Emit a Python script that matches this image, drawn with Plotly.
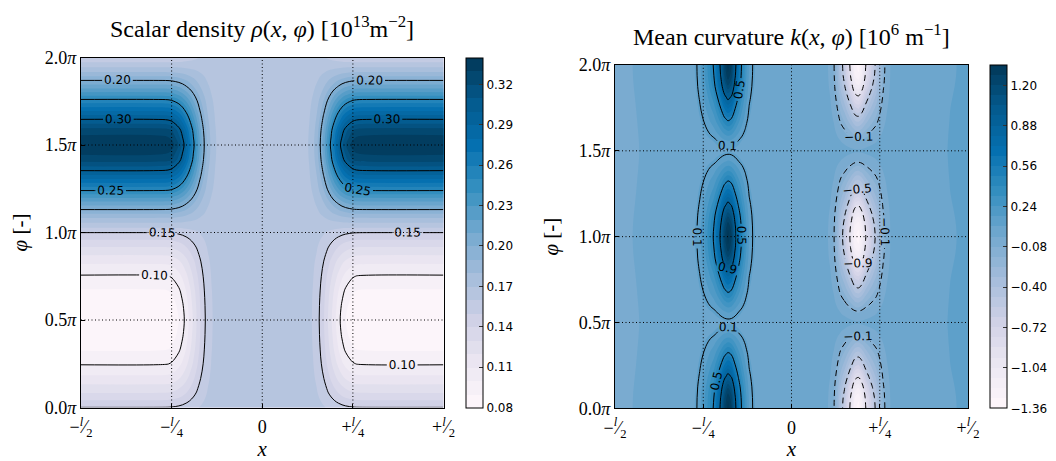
import plotly.graph_objects as go

# ---------------- data: scalar density rho(x, phi) ----------------
# x in units of l, phi in units of pi
rho_x = [-0.50, -0.30, -0.26, -0.25, -0.24, -0.23, -0.22, -0.21, -0.20, -0.19,
         -0.18, -0.17, -0.16, -0.15, -0.14, -0.13, -0.12, -0.11, -0.10, 0.00,
         0.10, 0.11, 0.12, 0.13, 0.14, 0.15, 0.16, 0.17, 0.18, 0.19,
         0.20, 0.21, 0.22, 0.23, 0.24, 0.25, 0.26, 0.30, 0.50]
# weight of the edge profile across x (1 = edge value, 0 = central plateau)
rho_w = [1.00, 1.00, 0.99, 0.97, 0.93, 0.88, 0.81, 0.72, 0.62, 0.51,
         0.40, 0.29, 0.20, 0.12, 0.07, 0.035, 0.015, 0.005, 0.0, 0.0,
         0.0, 0.005, 0.015, 0.035, 0.07, 0.12, 0.20, 0.29, 0.40, 0.51,
         0.62, 0.72, 0.81, 0.88, 0.93, 0.97, 0.99, 1.00, 1.00]
rho_phi = [0.0, 0.0833, 0.1667, 0.25, 0.3333, 0.4167, 0.5, 0.5833, 0.6667, 0.75,
           0.8333, 0.9167, 1.0, 1.0833, 1.1667, 1.25, 1.3333, 1.4167, 1.5, 1.5833,
           1.6667, 1.75, 1.8333, 1.9167, 2.0]
rho_edge = [0.1502, 0.130, 0.113, 0.099, 0.089, 0.083, 0.080, 0.083, 0.089, 0.099,
            0.112, 0.130, 0.1502, 0.180, 0.215, 0.255, 0.292, 0.325, 0.340, 0.325,
            0.292, 0.255, 0.215, 0.180, 0.1502]
rho_center = 0.165
rho_ticks = [0.08, 0.11, 0.14, 0.17, 0.20, 0.23, 0.26, 0.29, 0.32]

# ---------------- data: mean curvature k(x, phi) ----------------
k_x = [-0.50, -0.475, -0.45, -0.425, -0.40, -0.35, -0.30, -0.28, -0.27, -0.26,
       -0.25, -0.24, -0.23, -0.22, -0.21, -0.20, -0.19, -0.18, -0.17, -0.16,
       -0.15, -0.14, -0.13, -0.12, -0.11, -0.10, -0.08, -0.04, 0.00, 0.04,
       0.08, 0.10, 0.11, 0.12, 0.13, 0.14, 0.15, 0.16, 0.17, 0.18,
       0.19, 0.20, 0.21, 0.22, 0.23, 0.24, 0.25, 0.26, 0.27, 0.28,
       0.30, 0.35, 0.40, 0.425, 0.45, 0.475, 0.50]
# lobe amplitude across x (value at phi = 0, pi, 2pi)
k_amp = [0.01, 0.01, 0.01, 0.01, 0.01, 0.01, 0.01, 0.025, 0.05, 0.10,
         0.17, 0.26, 0.37, 0.48, 0.68, 0.92, 1.20, 1.36, 1.25, 0.93,
         0.65, 0.42, 0.24, 0.11, 0.06, 0.03, 0.01, 0.0, 0.0, 0.0,
         -0.01, -0.03, -0.06, -0.13, -0.28, -0.47, -0.62, -0.82, -1.05, -1.30,
         -1.36, -1.20, -0.95, -0.78, -0.63, -0.50, -0.33, -0.18, -0.09, -0.04,
         -0.01, -0.01, -0.01, -0.01, -0.01, -0.01, -0.01]
# small background level across x
k_bg = [-0.04, -0.035, -0.01, 0.003, 0.03, 0.04, 0.04, 0.04, 0.04, 0.04,
        0.04, 0.04, 0.04, 0.04, 0.04, 0.04, 0.04, 0.04, 0.04, 0.04,
        0.04, 0.04, 0.04, 0.04, 0.04, 0.04, 0.04, 0.04, 0.04, 0.04,
        0.04, 0.04, 0.04, 0.04, 0.04, 0.04, 0.04, 0.04, 0.04, 0.04,
        0.04, 0.04, 0.04, 0.04, 0.04, 0.04, 0.04, 0.04, 0.04, 0.04,
        0.04, 0.04, 0.05, 0.07, 0.085, 0.092, 0.095]
k_phi = [0.0, 0.0625, 0.125, 0.1875, 0.25, 0.3125, 0.375, 0.4375, 0.5, 0.5625,
         0.625, 0.6875, 0.75, 0.8125, 0.875, 0.9375, 1.0, 1.0625, 1.125, 1.1875,
         1.25, 1.3125, 1.375, 1.4375, 1.5, 1.5625, 1.625, 1.6875, 1.75, 1.8125,
         1.875, 1.9375, 2.0]
# lobe shape along phi
k_shape = [1.0, 0.955, 0.84, 0.67, 0.51, 0.365, 0.225, 0.095, 0.02, 0.095,
           0.225, 0.365, 0.51, 0.67, 0.84, 0.955, 1.0, 0.955, 0.84, 0.67,
           0.51, 0.365, 0.225, 0.095, 0.02, 0.095, 0.225, 0.365, 0.51, 0.67,
           0.84, 0.955, 1.0]
k_ticks = [-1.36, -1.04, -0.72, -0.40, -0.08, 0.24, 0.56, 0.88, 1.20]

x_ticks = [-0.5, -0.25, 0.0, 0.25, 0.5]
x_ticktext = ["−<sup><i>l</i></sup>⁄<sub>2</sub>", "−<sup><i>l</i></sup>⁄<sub>4</sub>", "0",
              "+<sup><i>l</i></sup>⁄<sub>4</sub>", "+<sup><i>l</i></sup>⁄<sub>2</sub>"]
y_ticks = [0.0, 0.5, 1.0, 1.5, 2.0]
y_ticktext = ["0.0<i>π</i>", "0.5<i>π</i>", "1.0<i>π</i>", "1.5<i>π</i>", "2.0<i>π</i>"]

# ---------------- tables ----------------
rho_z = [[rho_center + (e - rho_center) * w for w in rho_w] for e in rho_edge]
k_z = [[a * s + b for a, b in zip(k_amp, k_bg)] for s in k_shape]

# the page body has an 8px margin; the figure is placed at (8, 8) in the window
OFF = 8
W, H = 1048, 453
SERIF = "Liberation Serif"
SANS = "DejaVu Sans"

# pixel boxes in window coordinates
L = dict(x0=81, x1=443.5, y0=57.5, y1=407.5)
R = dict(x0=615, x1=968, y0=65, y1=408.3)

def px(X):
    return (X - OFF) / W

def py(Y):
    return 1 - (Y - OFF) / H

def xd(b):
    return [px(b["x0"]), px(b["x1"])]

def yd(b):
    return [py(b["y1"]), py(b["y0"])]

fig = go.Figure()

def cbar(xpx, box, ticks, fmt):
    return dict(
        x=px(xpx), xanchor="left", y=py(box["y1"]), yanchor="bottom",
        len=(box["y1"] - box["y0"]) / H, lenmode="fraction",
        thickness=17, thicknessmode="pixels", xpad=0, ypad=0,
        outlinecolor="black", outlinewidth=1,
        tickvals=ticks, ticktext=[fmt.format(t).replace("-", "−") for t in ticks],
        ticks="inside", ticklen=4, tickcolor="#333",
        tickfont=dict(family=SANS, size=12, color="black"),
    )

LBL = dict(family=SANS, size=12, color="black")

# density fill
fig.add_trace(go.Contour(
    x=rho_x, y=rho_phi, z=rho_z, xaxis="x", yaxis="y",
    colorscale="PuBu", zmin=0.08, zmax=0.34, autocontour=False,
    contours=dict(start=0.08, end=0.34, size=0.01, coloring="fill", showlines=False),
    line=dict(width=0, smoothing=1.0),
    colorbar=cbar(466, L, rho_ticks, "{:.2f}"), hoverinfo="skip",
))
# density lines
fig.add_trace(go.Contour(
    x=rho_x, y=rho_phi, z=rho_z, xaxis="x", yaxis="y",
    autocontour=False, showscale=False,
    contours=dict(start=0.10, end=0.30, size=0.05, coloring="none",
                  showlabels=True, labelformat=".2f", labelfont=LBL),
    line=dict(color="black", width=1, smoothing=1.0), hoverinfo="skip",
))
# curvature fill
fig.add_trace(go.Contour(
    x=k_x, y=k_phi, z=k_z, xaxis="x2", yaxis="y2",
    colorscale="PuBu", zmin=-1.36, zmax=1.36, autocontour=False,
    contours=dict(start=-1.36, end=1.36, size=0.08, coloring="fill", showlines=False),
    line=dict(width=0, smoothing=1.0),
    colorbar=cbar(990, R, k_ticks, "{:.2f}"), hoverinfo="skip",
))
# curvature lines (positive, solid)
fig.add_trace(go.Contour(
    x=k_x, y=k_phi, z=k_z, xaxis="x2", yaxis="y2",
    autocontour=False, showscale=False,
    contours=dict(start=0.1, end=0.9, size=0.4, coloring="none",
                  showlabels=True, labelformat=".1f", labelfont=LBL),
    line=dict(color="black", width=1, smoothing=1.0), hoverinfo="skip",
))
# curvature lines (negative, dashed)
fig.add_trace(go.Contour(
    x=k_x, y=k_phi, z=k_z, xaxis="x2", yaxis="y2",
    autocontour=False, showscale=False,
    contours=dict(start=-0.9, end=-0.1, size=0.4, coloring="none",
                  showlabels=True, labelformat=".1f", labelfont=LBL),
    line=dict(color="black", width=1, dash="6px,4px", smoothing=1.0), hoverinfo="skip",
))

axis_common = dict(
    showline=True, linecolor="black", linewidth=1, mirror=True, automargin=False,
    ticks="inside", ticklen=4, tickcolor="black", showgrid=False, zeroline=False,
    tickfont=dict(family=SERIF, size=18, color="black"),
)

xt = dict(text="<i>x</i>", font=dict(family=SERIF, size=21, color="black"), standoff=0)
yt = dict(text="<i>φ</i> [-]", font=dict(family=SERIF, size=21, color="black"), standoff=14)

fig.update_layout(
    width=W, height=H, margin=dict(l=0, r=0, t=0, b=0, autoexpand=False),
    paper_bgcolor="white", plot_bgcolor="white", showlegend=False,
    xaxis=dict(domain=xd(L), range=[-0.5, 0.5], anchor="y", ticklabelstandoff=3,
               tickvals=x_ticks, ticktext=x_ticktext, title=xt, **axis_common),
    yaxis=dict(domain=yd(L), range=[0, 2], anchor="x",
               tickvals=y_ticks, ticktext=y_ticktext, title=yt, **axis_common),
    xaxis2=dict(domain=xd(R), range=[-0.5, 0.5], anchor="y2", ticklabelstandoff=3,
                tickvals=x_ticks, ticktext=x_ticktext, title=xt, **axis_common),
    yaxis2=dict(domain=yd(R), range=[0, 2], anchor="x2",
                tickvals=y_ticks, ticktext=y_ticktext, title=yt, **axis_common),
)

# dotted grid drawn above the filled contours, at the tick positions
shapes = []
for xa, ya in (("x", "y"), ("x2", "y2")):
    for xv in x_ticks[1:-1]:
        shapes.append(dict(type="line", xref=xa, yref=ya + " domain", x0=xv, x1=xv, y0=0, y1=1,
                           line=dict(color="black", width=1, dash="1px,2.5px"), layer="above"))
    for yv in y_ticks[1:-1]:
        shapes.append(dict(type="line", xref=xa + " domain", yref=ya, x0=0, x1=1, y0=yv, y1=yv,
                           line=dict(color="black", width=1, dash="1px,2.5px"), layer="above"))
fig.update_layout(shapes=shapes)

fig.add_annotation(text="Scalar density <i>ρ</i>(<i>x</i>, <i>φ</i>) [10<sup>13</sup>m<sup>−2</sup>]",
                   xref="paper", yref="paper", x=px(262), y=py(27), showarrow=False,
                   xanchor="center", yanchor="middle",
                   font=dict(family=SERIF, size=24, color="black"))
fig.add_annotation(text="Mean curvature <i>k</i>(<i>x</i>, <i>φ</i>) [10<sup>6</sup> m<sup>−1</sup>]",
                   xref="paper", yref="paper", x=px(791.5), y=py(35), showarrow=False,
                   xanchor="center", yanchor="middle",
                   font=dict(family=SERIF, size=24, color="black"))

fig.write_html("out.html")
